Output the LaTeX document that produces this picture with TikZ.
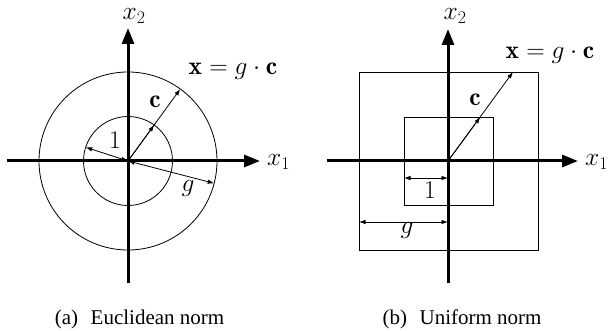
\documentclass[tikz,border=0pt]{standalone}
\usepackage{fix-cm}
\usepackage{fontspec}
\newfontfamily\capfont{Liberation Serif}
\usetikzlibrary{arrows.meta}
\begin{document}
\begin{tikzpicture}[x=1pt,y=-1pt,
  axis/.style={line width=3pt,-{Triangle[length=16pt,width=12pt]}},
  thinline/.style={line width=0.8pt},
  vec/.style={line width=0.8pt,-{Latex[length=6.5pt,width=4.5pt]}},
  dim/.style={line width=0.8pt,{Latex[length=6.5pt,width=4.5pt]}-{Latex[length=6.5pt,width=4.5pt]}},
  lbl/.style={font=\fontsize{25.5}{30}\selectfont,inner sep=0pt},
  captext/.style={font=\capfont\fontsize{21}{25}\selectfont,inner sep=0pt,anchor=base}]
\useasboundingbox (0,0) rectangle (611,331);
% ---------- left panel
\coordinate (O1) at (128,161);
\coordinate (a1w) at (7,161);
\coordinate (a1e) at (260,161);
\coordinate (a1s) at (128,283);
\coordinate (a1n) at (128,28);
\draw[thinline] (O1) circle[radius=44.5pt];
\draw[thinline] (O1) circle[radius=89pt];
\coordinate (c1in) at (154.2,125);
\coordinate (c1out) at (180.3,89);
\coordinate (u1) at (85.7,147.3);
\coordinate (g1) at (214.2,183.3);
\draw[vec] (O1) -- (c1in);
\draw[vec] (O1) -- (c1out);
\draw[dim] (O1) -- (u1);
\draw[dim] (O1) -- (g1);
\draw[axis] (a1w) -- (a1e);
\draw[axis] (a1s) -- (a1n);
\node[lbl,anchor=west] (x1a) at (267,162) {$x_1$};
\node[lbl] (x2a) at (134,16) {$x_2$};
\node[lbl] (ca) at (155,102) {$\mathbf{c}$};
\node[lbl] (xga) at (233,71) {$\mathbf{x}=g\cdot\mathbf{c}$};
\node[lbl] (onea) at (115,140) {$1$};
\node[lbl] (ga) at (188,188) {$g$};
\node[captext] (capa) at (139.5,325) {(a)\hspace{0.6em}Euclidean norm};
% ---------- right panel
\coordinate (O2) at (448,161);
\coordinate (a2w) at (327,161);
\coordinate (a2e) at (578,161);
\coordinate (a2s) at (448,283);
\coordinate (a2n) at (448,29);
\draw[thinline] (404,117) rectangle (493,205);
\draw[thinline] (359,72) rectangle (538,250);
\coordinate (c2in) at (480.3,117);
\coordinate (c2out) at (513,72);
\coordinate (u2a) at (404,178);
\coordinate (u2b) at (448,178);
\coordinate (g2a) at (359,222);
\coordinate (g2b) at (448,222);
\draw[vec] (O2) -- (c2in);
\draw[vec] (O2) -- (c2out);
\draw[dim] (u2a) -- (u2b);
\draw[dim] (g2a) -- (g2b);
\draw[axis] (a2w) -- (a2e);
\draw[axis] (a2s) -- (a2n);
\node[lbl,anchor=west] (x1b) at (585,162) {$x_1$};
\node[lbl] (x2b) at (455,16) {$x_2$};
\node[lbl] (cb) at (475,100) {$\mathbf{c}$};
\node[lbl] (xgb) at (550,55) {$\mathbf{x}=g\cdot\mathbf{c}$};
\node[lbl] (oneb) at (430,190) {$1$};
\node[lbl] (gb) at (407,230) {$g$};
\node[captext] (capb) at (462,325) {(b)\hspace{0.6em}Uniform norm};
\end{tikzpicture}
\end{document}
